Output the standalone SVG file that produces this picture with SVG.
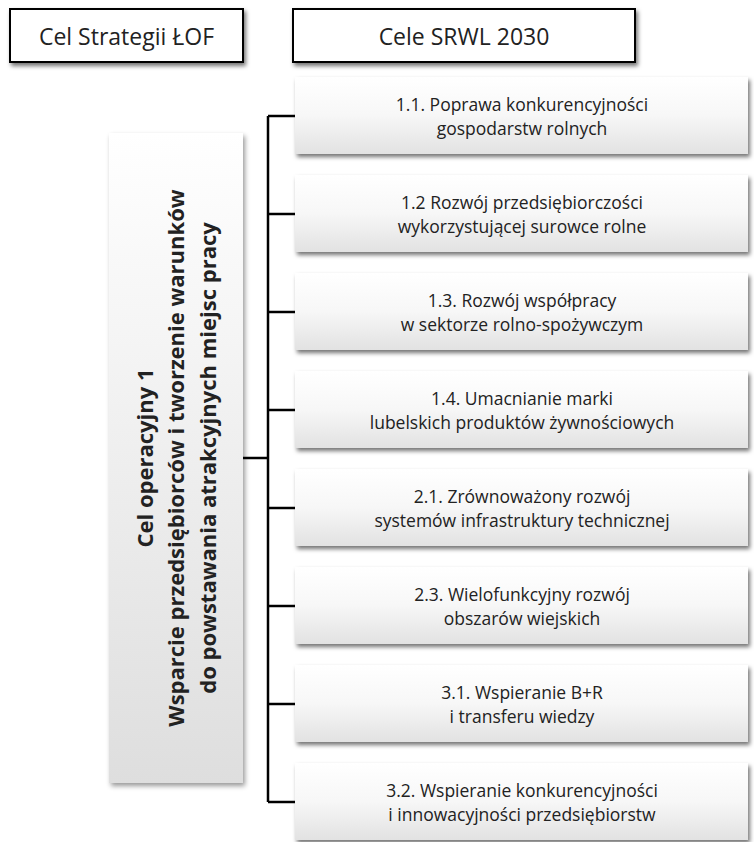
<svg xmlns="http://www.w3.org/2000/svg" width="754" height="842" viewBox="0 0 754 842">
<style>
.hdr{fill:#fff;stroke:#000;stroke-width:2}
.goal{fill:url(#gGoal)}
.t{font-family:"Open Sans","Noto Sans",sans-serif;fill:#222;text-anchor:middle}
.h{font-size:23px}
.g{font-size:17.5px}
.v{font-size:22px;font-weight:bold}
.ln{stroke:#000;stroke-width:2.5;fill:none}
</style>
<defs>
<linearGradient id="gGoal" x1="0" y1="0" x2="0" y2="1">
<stop offset="0" stop-color="#ffffff"/>
<stop offset="0.5" stop-color="#f7f7f7"/>
<stop offset="1" stop-color="#e2e2e2"/>
</linearGradient>
<linearGradient id="gMain" x1="0" y1="0" x2="0" y2="1">
<stop offset="0" stop-color="#ffffff"/>
<stop offset="1" stop-color="#dedede"/>
</linearGradient>
<filter id="sh" x="-10%" y="-10%" width="125%" height="130%">
<feDropShadow dx="2" dy="3" stdDeviation="2" flood-color="#000" flood-opacity="0.55"/>
</filter>
<filter id="shs" x="-10%" y="-10%" width="125%" height="130%">
<feDropShadow dx="2" dy="3" stdDeviation="2.5" flood-color="#000" flood-opacity="0.4"/>
</filter>
</defs>

<g id="header-lof">
<rect class="hdr" x="10" y="9" width="233" height="53" filter="url(#sh)"/>
<text class="t h" x="126.5" y="45">Cel Strategii ŁOF</text>
</g>
<g id="header-srwl">
<rect class="hdr" x="293" y="9" width="342" height="53" filter="url(#sh)"/>
<text class="t h" x="464" y="45">Cele SRWL 2030</text>
</g>

<g id="connectors">
<line class="ln" x1="268" y1="116" x2="268" y2="802"/>
<line class="ln" x1="243" y1="458" x2="268" y2="458" stroke-width="3"/>
<line class="ln" x1="268" y1="116" x2="295" y2="116"/>
<line class="ln" x1="268" y1="214" x2="295" y2="214"/>
<line class="ln" x1="268" y1="312" x2="295" y2="312"/>
<line class="ln" x1="268" y1="410" x2="295" y2="410"/>
<line class="ln" x1="268" y1="508" x2="295" y2="508"/>
<line class="ln" x1="268" y1="606" x2="295" y2="606"/>
<line class="ln" x1="268" y1="704" x2="295" y2="704"/>
<line class="ln" x1="268" y1="802" x2="295" y2="802"/>
</g>

<g id="cel-operacyjny-1">
<rect x="109" y="133" width="134" height="650" fill="url(#gMain)" filter="url(#shs)"/>
<g transform="translate(0,458) rotate(-90)">
<text class="t v" x="0" y="153">Cel operacyjny 1</text>
<text class="t v" x="0" y="184">Wsparcie przedsiębiorców i tworzenie warunków</text>
<text class="t v" x="0" y="216">do powstawania atrakcyjnych miejsc pracy</text>
</g>
</g>

<g id="goal-1-1">
<rect class="goal" x="295" y="77" width="453" height="77" filter="url(#sh)"/>
<text class="t g" x="522" y="111">1.1. Poprawa konkurencyjności</text>
<text class="t g" x="522" y="135">gospodarstw rolnych</text>
</g>
<g id="goal-1-2">
<rect class="goal" x="295" y="175" width="453" height="77" filter="url(#sh)"/>
<text class="t g" x="522" y="209">1.2 Rozwój przedsiębiorczości</text>
<text class="t g" x="522" y="233">wykorzystującej surowce rolne</text>
</g>
<g id="goal-1-3">
<rect class="goal" x="295" y="273" width="453" height="77" filter="url(#sh)"/>
<text class="t g" x="522" y="307">1.3. Rozwój współpracy</text>
<text class="t g" x="522" y="331">w sektorze rolno-spożywczym</text>
</g>
<g id="goal-1-4">
<rect class="goal" x="295" y="371" width="453" height="77" filter="url(#sh)"/>
<text class="t g" x="522" y="405">1.4. Umacnianie marki</text>
<text class="t g" x="522" y="429">lubelskich produktów żywnościowych</text>
</g>
<g id="goal-2-1">
<rect class="goal" x="295" y="469" width="453" height="77" filter="url(#sh)"/>
<text class="t g" x="522" y="503">2.1. Zrównoważony rozwój</text>
<text class="t g" x="522" y="527">systemów infrastruktury technicznej</text>
</g>
<g id="goal-2-3">
<rect class="goal" x="295" y="567" width="453" height="77" filter="url(#sh)"/>
<text class="t g" x="522" y="601">2.3. Wielofunkcyjny rozwój</text>
<text class="t g" x="522" y="625">obszarów wiejskich</text>
</g>
<g id="goal-3-1">
<rect class="goal" x="295" y="665" width="453" height="77" filter="url(#sh)"/>
<text class="t g" x="522" y="699">3.1. Wspieranie B+R</text>
<text class="t g" x="522" y="723">i transferu wiedzy</text>
</g>
<g id="goal-3-2">
<rect class="goal" x="295" y="763" width="453" height="77" filter="url(#sh)"/>
<text class="t g" x="522" y="797">3.2. Wspieranie konkurencyjności</text>
<text class="t g" x="522" y="821">i innowacyjności przedsiębiorstw</text>
</g>
</svg>
